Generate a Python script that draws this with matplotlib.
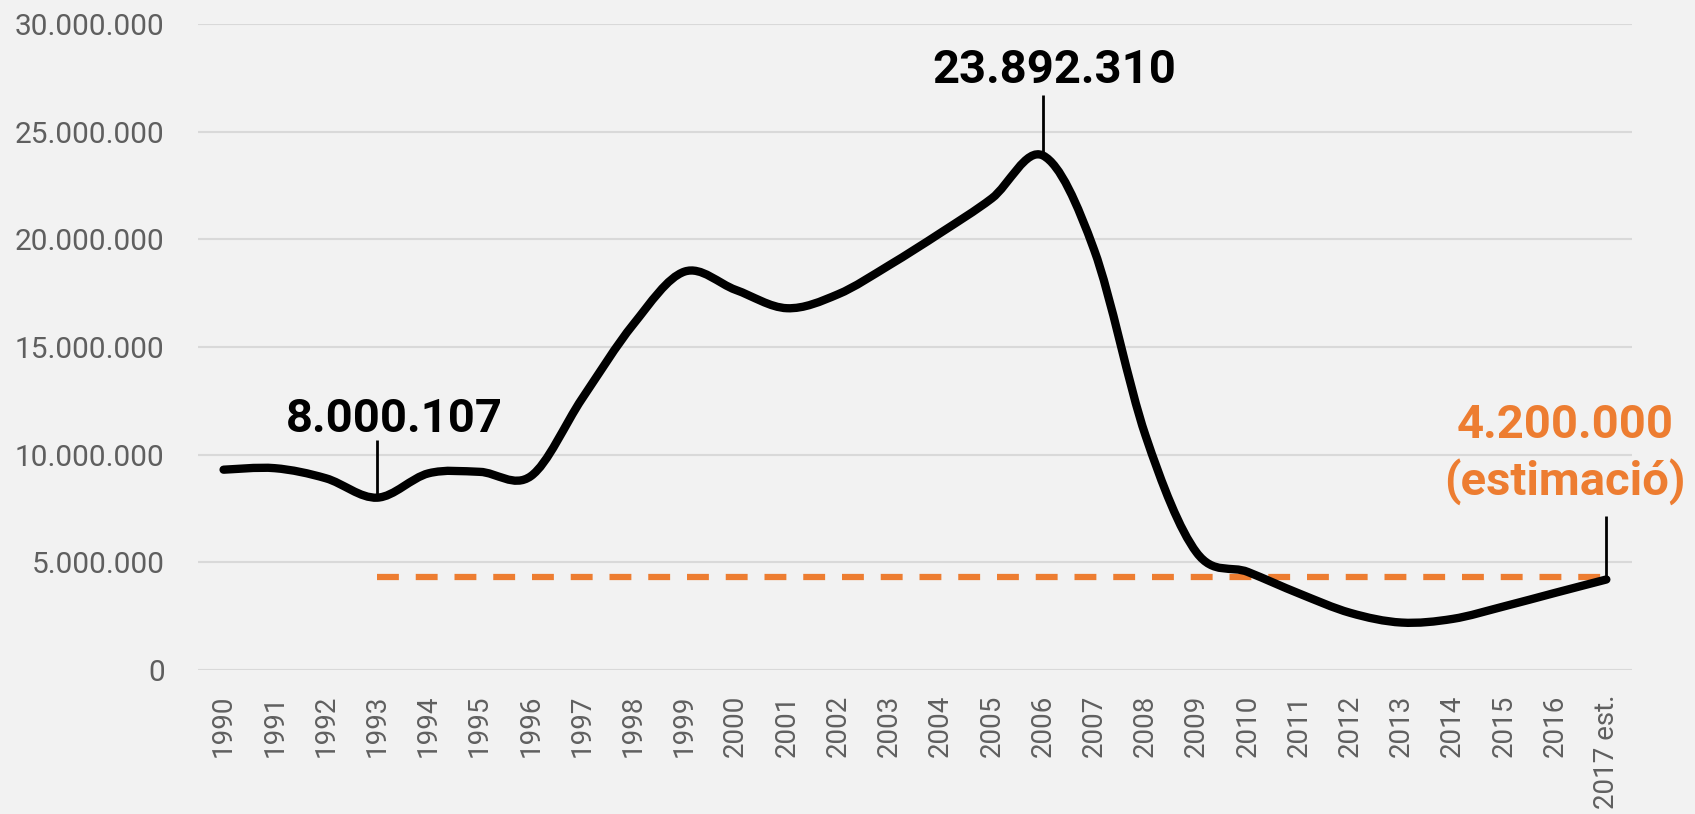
import numpy as np
import matplotlib.pyplot as plt
from matplotlib.path import Path
from matplotlib.patches import PathPatch

years = ['1990', '1991', '1992', '1993', '1994', '1995', '1996', '1997', '1998', '1999',
         '2000', '2001', '2002', '2003', '2004', '2005', '2006', '2007', '2008', '2009',
         '2010', '2011', '2012', '2013', '2014', '2015', '2016', '2017 est.']
visitors = [9300000, 9370000, 8900000, 8000107, 9130000, 9200000, 9000000, 12600000,
            16050000, 18500000, 17650000, 16800000, 17450000, 18800000, 20300000, 21900000,
            23892310, 19500000, 10900000, 5450000, 4550000, 3550000, 2650000, 2200000,
            2370000, 2950000, 3580000, 4200000]
estimate_level = 4300000

orange = '#ed7d31'
grey_text = '#5f5f5f'
bg = '#f2f2f2'


def smooth_path(x, y):
    # catmull-rom through the data points, drawn as bezier segments
    pts = np.column_stack([x, y]).astype(float)
    n = len(pts)
    verts = [pts[0]]
    codes = [Path.MOVETO]
    for i in range(n - 1):
        p0 = pts[max(i - 1, 0)]
        p1 = pts[i]
        p2 = pts[i + 1]
        p3 = pts[min(i + 2, n - 1)]
        verts += [p1 + (p2 - p0) / 6, p2 - (p3 - p1) / 6, p2]
        codes += [Path.CURVE4] * 3
    return Path(verts, codes)


plt.rcParams['font.family'] = ['Roboto', 'DejaVu Sans']

fig = plt.figure(figsize=(16.95, 8.14), dpi=100, facecolor=bg)
ax = fig.add_axes([0.1168, 0.177, 0.846, 0.7935], facecolor=bg)

x = np.arange(len(years))
ax.plot(x[3:], [estimate_level] * len(x[3:]), color=orange, lw=4.5,
        dashes=(3.5, 2.7), dash_capstyle='butt', zorder=2)
ax.add_patch(PathPatch(smooth_path(x, visitors), fill=False, lw=6, edgecolor='black',
                       capstyle='round', joinstyle='round', zorder=3))

i93 = years.index('1993')
i06 = years.index('2006')
i17 = len(years) - 1
ax.vlines(i93, visitors[i93], 10700000, color='black', lw=2, zorder=2)
ax.text(i93 + 0.34, 11050000, '8.000.107', ha='center', va='baseline',
        fontsize=34, fontweight='bold', color='black')
ax.vlines(i06, visitors[i06], 26700000, color='black', lw=2, zorder=2)
ax.text(i06 + 0.22, 27250000, '23.892.310', ha='center', va='baseline',
        fontsize=34, fontweight='bold', color='black', clip_on=False)
ax.vlines(i17, visitors[i17], 7150000, color='black', lw=2, zorder=4)
ax.text(i17 - 0.8, 10770000, '4.200.000', ha='center', va='baseline',
        fontsize=34, fontweight='bold', color=orange, clip_on=False)
ax.text(i17 - 0.8, 8150000, '(estimació)', ha='center', va='baseline',
        fontsize=34, fontweight='bold', color=orange, clip_on=False)

ax.set_xlim(-0.5, len(years) - 0.5)
ax.set_ylim(0, 30000000)
yt = np.arange(0, 30000001, 5000000)
ax.set_yticks(yt, ['0' if v == 0 else f'{v:,}'.replace(',', '.') for v in yt])
ax.set_xticks(x, years, rotation=90)
ax.tick_params(axis='y', length=0, pad=24, labelsize=21.5, labelcolor=grey_text)
ax.tick_params(axis='x', length=0, pad=18, labelsize=20, labelcolor=grey_text)
ax.grid(axis='y', color='#d9d9d9', lw=1.5)
ax.set_axisbelow(True)
for s in ax.spines.values():
    s.set_visible(False)

fig.savefig('out.png', dpi=100, facecolor=bg)
